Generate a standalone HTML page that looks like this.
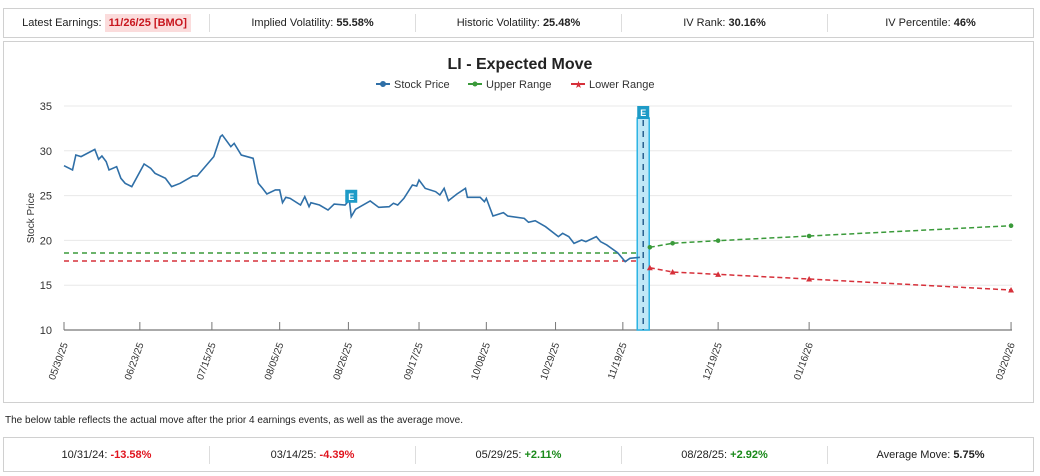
<!DOCTYPE html>
<html><head><meta charset="utf-8">
<style>
body{margin:0;width:1040px;height:476px;background:#fff;font-family:"Liberation Sans",sans-serif;color:#222;overflow:hidden;position:relative}
.bar{position:absolute;left:3px;width:1029px;border:1px solid #d0d0d0;display:flex;align-items:center;font-size:11px}
.cell{flex:1;text-align:center;border-right:1px solid #ddd;height:18px;line-height:18px}
.cell:last-child{border-right:none}
b{font-weight:bold}
.red{color:#e0141e;font-weight:bold}.grn{color:#1a8a1a;font-weight:bold}
</style></head><body>
<div class="bar" style="top:8px;height:28px">
 <div class="cell">Latest Earnings: <span style="background:#fbdcdc;color:#c8161e;font-weight:bold;padding:3px 4px">11/26/25 [BMO]</span></div>
 <div class="cell">Implied Volatility: <b>55.58%</b></div>
 <div class="cell">Historic Volatility: <b>25.48%</b></div>
 <div class="cell">IV Rank: <b>30.16%</b></div>
 <div class="cell">IV Percentile: <b>46%</b></div>
</div>
<div style="position:absolute;left:3px;top:41px;width:1029px;height:360px;border:1px solid #d0d0d0"></div>
<svg id="chart" width="1040" height="476" style="position:absolute;left:0;top:0">
 <text x="520" y="69" text-anchor="middle" font-size="16" font-weight="bold" fill="#222">LI - Expected Move</text>
 <g font-size="11" fill="#333">
  <g><line x1="376" y1="84" x2="390" y2="84" stroke="#2f6fa7" stroke-width="2"/><circle cx="383" cy="84" r="3" fill="#2f6fa7"/><text x="394" y="88">Stock Price</text></g>
  <g><line x1="468" y1="84" x2="482" y2="84" stroke="#3a9a3a" stroke-width="2"/><circle cx="475" cy="84" r="2.5" fill="#3a9a3a"/><text x="486" y="88">Upper Range</text></g>
  <g><line x1="571" y1="84" x2="585" y2="84" stroke="#d6303a" stroke-width="2"/><text x="574" y="88" font-size="10" fill="#d6303a">★</text><text x="589" y="88">Lower Range</text></g>
 </g>
 <text transform="translate(34,218) rotate(-90)" text-anchor="middle" font-size="10" fill="#333">Stock Price</text>
 <g id="grid"></g><g id="plot"></g>
</svg>
<div style="position:absolute;left:5px;top:415px;font-size:10px;color:#222">The below table reflects the actual move after the prior 4 earnings events, as well as the average move.</div>
<div class="bar" style="top:437px;height:33px">
 <div class="cell">10/31/24: <span class="red">-13.58%</span></div>
 <div class="cell">03/14/25: <span class="red">-4.39%</span></div>
 <div class="cell">05/29/25: <span class="grn">+2.11%</span></div>
 <div class="cell">08/28/25: <span class="grn">+2.92%</span></div>
 <div class="cell">Average Move: <b>5.75%</b></div>
</div>
<script>
const yTicks=[10,15,20,25,30,35];
const xTickLabels=["05/30/25","06/23/25","07/15/25","08/05/25","08/26/25","09/17/25","10/08/25","10/29/25","11/19/25","12/19/25","01/16/26","03/20/26"];
const xTickPos=[0,16,31.2,45.5,60,74.9,89.1,103.7,117.9,138,157.2,199.8];
const priceX=[0,1.8,2.5,3.6,6.5,7.3,8,8.9,9.5,11.1,12,12.9,14.3,16.9,18.3,19.2,21.4,22.7,24.5,27.2,28.1,31.6,33,33.4,35.2,35.9,37.4,39.9,41,41.9,42.8,44.6,45.5,46.1,46.8,47.7,49.9,50.8,51.7,52.1,53.9,55.7,57,59.3,60.2,60.6,61.5,64.6,66.4,68.6,69.5,70.4,71.7,73.5,74.4,74.9,76.2,78.4,79.3,80.2,81.1,82.9,84.7,85.1,87.8,88.7,89.1,90.5,92.7,93.6,97.1,98,99.4,101.6,104.3,105.2,106.5,107.6,109.2,110.1,112.3,113.2,114.5,116.8,118.4,119.4,121.5];
const priceY=[28.34,27.86,29.53,29.35,30.16,29.05,29.42,28.79,27.86,28.23,26.93,26.37,26.0,28.53,28.04,27.49,26.93,26.0,26.37,27.19,27.19,29.35,31.58,31.76,30.46,30.83,29.53,29.16,26.37,25.81,25.18,25.63,25.63,24.21,24.81,24.69,23.95,24.88,23.76,24.21,23.95,23.39,24.06,23.95,24.51,22.65,23.47,24.4,23.69,23.76,24.14,23.95,24.69,26.18,26.07,26.74,25.81,25.44,25.07,25.81,24.43,25.18,25.81,24.81,24.81,24.32,24.69,22.72,23.1,22.72,22.46,22.02,22.2,21.53,20.42,20.79,20.42,19.67,20.04,19.86,20.42,19.86,19.49,18.63,17.63,18.0,18.11];
const rangeX=[123.6,128.4,138,157.2,199.8];
const upperY=[19.23,19.68,19.97,20.49,21.64];
const lowerY=[16.95,16.47,16.21,15.69,14.46];
const flatUpper=18.6, flatLower=17.7, flatEnd=121.5;
const earningsX=[60.6,122.2];
const NS="http://www.w3.org/2000/svg";
const X=v=>64+v*(1012-64)/200, Y=v=>330-(v-10)*(330-106)/25;
const grid=document.getElementById('grid'), plot=document.getElementById('plot');
function mk(tag,attrs,parent){const e=document.createElementNS(NS,tag);for(const k in attrs)e.setAttribute(k,attrs[k]);parent.appendChild(e);return e;}
yTicks.forEach(t=>{
 if(t>10){const l=mk('line',{x1:64,x2:1012,y1:Y(t),y2:Y(t),stroke:'#e8e8e8'},grid);
 
 }
 const tx=mk('text',{x:52,y:Y(t)+4,'text-anchor':'end','font-size':11,fill:'#333'},grid);tx.textContent=t;
 
 
});
const ax=mk('line',{x1:64,x2:1012,y1:330,y2:330,stroke:'#777','stroke-width':1.2},grid);


xTickPos.forEach((p,i)=>{
 const l=mk('line',{x1:X(p),x2:X(p),y1:322,y2:330,stroke:'#777'},grid);
 
 
 const t=mk('text',{transform:`translate(${X(p)+4},${344}) rotate(-70)`,'text-anchor':'end','font-size':10,fill:'#333'},grid);
 t.textContent=xTickLabels[i];
 
 
});
// flat dashed lines
const fu=mk('line',{x1:X(0),x2:X(flatEnd),y1:Y(flatUpper),y2:Y(flatUpper),stroke:'#3a9a3a','stroke-width':1.5,'stroke-dasharray':'5,4'},plot);


const fl=mk('line',{x1:X(0),x2:X(flatEnd),y1:Y(flatLower),y2:Y(flatLower),stroke:'#d6303a','stroke-width':1.5,'stroke-dasharray':'5,4'},plot);


// earnings band
const ex=X(earningsX[1]);
const band=mk('rect',{x:ex-6,y:118,width:12,height:212,fill:'#bfe7f7',stroke:'#2bb3e3','stroke-width':1.5},plot);


const bl=mk('line',{x1:ex,x2:ex,y1:120,y2:330,stroke:'#2a5f8f','stroke-width':1.5,'stroke-dasharray':'6,5'},plot);


// stock line
const sp=mk('polyline',{points:priceX.map((x,i)=>X(x)+','+Y(priceY[i])).join(' '),fill:'none',stroke:'#2f6fa7','stroke-width':1.6},plot);


// ranges
const up=mk('polyline',{points:rangeX.map((x,i)=>X(x)+','+Y(upperY[i])).join(' '),fill:'none',stroke:'#3a9a3a','stroke-width':1.5,'stroke-dasharray':'5,3'},plot);


const lo=mk('polyline',{points:rangeX.map((x,i)=>X(x)+','+Y(lowerY[i])).join(' '),fill:'none',stroke:'#d6303a','stroke-width':1.5,'stroke-dasharray':'5,3'},plot);


rangeX.forEach((x,i)=>{
 const a=mk('circle',{cx:X(x),cy:Y(upperY[i]),r:2.3,fill:'#3a9a3a'},plot);
 
 
 const b=mk('path',{d:`M${X(x)-3},${Y(lowerY[i])+2.5} L${X(x)},${Y(lowerY[i])-3} L${X(x)+3},${Y(lowerY[i])+2.5}Z`,fill:'#d6303a'},plot);
 
 
});
// E markers
[[earningsX[0],Y(24.2)-13],[earningsX[1],106]].forEach(([x,y])=>{
 const g=mk('g',{},plot);
 
 
 mk('rect',{x:X(x)-6,y:y,width:12,height:13,fill:'#1e9bc7'},g);
 const t=mk('text',{x:X(x),y:y+10,'text-anchor':'middle','font-size':9,'font-weight':'bold',fill:'#fff'},g);t.textContent='E';
});
</script>
</body></html>
